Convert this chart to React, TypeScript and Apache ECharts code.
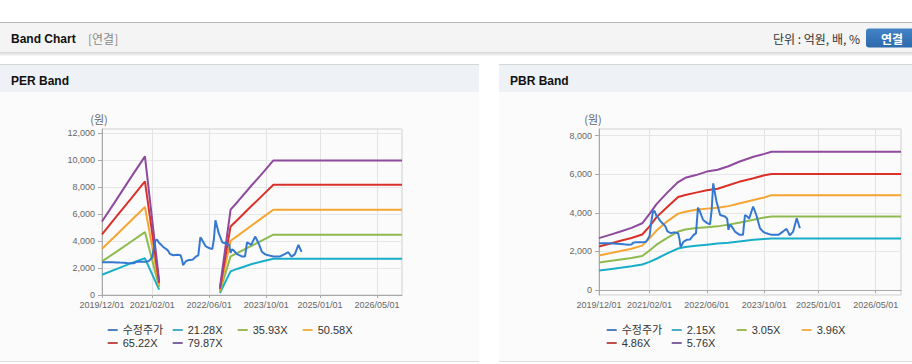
import React, { useEffect, useRef } from 'react';
import * as echarts from 'echarts';

// ---------- data ----------
const X_MIN = '2019-12-01';
const X_MAX = '2026-12-01';
const X_TICKS = ['2019-12-01', '2021-02-01', '2022-06-01', '2023-10-01', '2025-01-01', '2026-05-01'];

const PRICE_NAME = '수정주가';
const PRICE_DATES = [
  '2019-12-01', '2020-01-01', '2020-02-01', '2020-03-01', '2020-04-01', '2020-05-01', '2020-06-01',
  '2020-07-01', '2020-08-01', '2020-09-01', '2020-09-15', '2020-10-01', '2020-11-01', '2020-12-01',
  '2021-01-01', '2021-01-15', '2021-02-01', '2021-02-15', '2021-03-01', '2021-03-15', '2021-04-01',
  '2021-04-15', '2021-05-01', '2021-05-15', '2021-06-01', '2021-06-15', '2021-07-01', '2021-07-15',
  '2021-08-01', '2021-09-01', '2021-10-01', '2021-10-12', '2021-10-22', '2021-11-15', '2021-12-12',
  '2022-01-10', '2022-02-10', '2022-03-01', '2022-03-18', '2022-04-01', '2022-05-01', '2022-06-01',
  '2022-06-28', '2022-07-12', '2022-07-25', '2022-08-22', '2022-09-22', '2022-11-01', '2022-11-20',
  '2022-12-01', '2022-12-12', '2022-12-28', '2023-01-25', '2023-03-06', '2023-04-03', '2023-04-20',
  '2023-05-10', '2023-05-25', '2023-06-28', '2023-07-25', '2023-08-25', '2023-09-22', '2023-10-18',
  '2023-12-01', '2024-01-28', '2024-03-06', '2024-04-06', '2024-05-03', '2024-06-01', '2024-07-01',
  '2024-07-28',
];
const PRICE = [
  2430, 2430, 2420, 2420, 2410, 2400, 2390,
  2370, 2350, 2360, 2450, 2470, 2470, 2470,
  2500, 2620, 2800, 3500, 4050, 4100, 3850,
  3750, 3600, 3500, 3400, 3300, 3050, 3000,
  2950, 2990, 2940, 2650, 2220, 2500, 2600,
  2620, 2860, 2940, 4270, 4100, 3630, 3480,
  3400, 4150, 5530, 4580, 3890, 3810, 3700,
  3120, 3380, 3300, 3030, 2860, 2860, 3890,
  3810, 3700, 4330, 3890, 3200, 3010, 2940,
  2860, 2860, 3030, 3170, 2830, 3030, 3720,
  3200,
];

const PER_NAMES = ['21.28X', '35.93X', '50.58X', '65.22X', '79.87X'];
const PER_DATES = [
  '2019-12-01', '2020-04-01', '2020-08-01', '2020-12-01', '2021-04-01', '2022-01-01',
  '2022-09-01', '2022-12-01', '2023-02-01', '2023-06-01', '2023-09-01', '2023-12-01', '2026-12-01',
];
const PER_21 = [1500, 1920, 2340, 2720, 400, null, 150, 1750, 1950, 2300, 2500, 2690, 2690];
const PER_35 = [2490, 3200, 3930, 4660, 600, null, 250, 2860, 3130, 3660, 4070, 4470, 4470];
const PER_50 = [3430, 4450, 5480, 6520, 750, null, 350, 4020, 4400, 5170, 5750, 6320, 6320];
const PER_65 = [4500, 5800, 7100, 8420, 900, null, 450, 5080, 5600, 6630, 7400, 8170, 8170];
const PER_79 = [5450, 7050, 8680, 10270, 1050, null, 550, 6320, 6930, 8150, 9050, 9970, 9970];

const PBR_NAMES = ['2.15X', '3.05X', '3.96X', '4.86X', '5.76X'];
const PBR_DATES = [
  '2019-12-01', '2020-03-01', '2020-06-01', '2020-09-01', '2020-12-01', '2021-02-01', '2021-04-01',
  '2021-07-01', '2021-10-01', '2021-12-01', '2022-03-01', '2022-06-01', '2022-09-01', '2022-12-01',
  '2023-03-01', '2023-07-01', '2023-10-01', '2023-12-01', '2026-12-01',
];
const PBR_215 = [1010, 1080, 1150, 1230, 1320, 1460, 1620, 1900, 2150, 2230, 2290, 2350, 2410, 2450, 2520, 2600, 2650, 2670, 2670];
const PBR_305 = [1420, 1500, 1580, 1660, 1760, 2050, 2350, 2700, 3030, 3140, 3210, 3260, 3300, 3390, 3490, 3640, 3760, 3810, 3810];
const PBR_396 = [1790, 1900, 2020, 2140, 2300, 2680, 3080, 3560, 3960, 4060, 4160, 4220, 4270, 4350, 4490, 4670, 4800, 4920, 4920];
const PBR_486 = [2260, 2400, 2550, 2700, 2880, 3300, 3780, 4300, 4820, 4930, 5050, 5170, 5250, 5430, 5610, 5800, 5950, 6020, 6020];
const PBR_576 = [2690, 2860, 3030, 3220, 3460, 3950, 4450, 5050, 5600, 5820, 5960, 6140, 6240, 6420, 6650, 6910, 7060, 7170, 7170];

const PER_RANGE = [0, 12300];
const PBR_RANGE = [-260, 8350];

// ---------- styles ----------
const LINE_COLORS = ['#19aec7', '#8dbb4f', '#f5a532', '#d9302a', '#8f4a9e'];
const PRICE_COLOR = '#3578d0';
const LEGEND_COLORS = ['#4f81bd', '#4bacc6', '#9bbb59', '#f2b050', '#c0504d', '#8064a2'];
const NUM_FONT = '"Liberation Sans", Arial, "Noto Sans CJK KR", sans-serif';
const KR_FONT = '"Noto Sans CJK KR", "Liberation Sans", sans-serif';

const toTs = (s: string) => echarts.number.parseDate(s).getTime();
const pad = (n: number) => String(n).padStart(2, '0');
const fmtDate = (v: number) => {
  const d = new Date(v);
  return `${d.getFullYear()}/${pad(d.getMonth() + 1)}/${pad(d.getDate())}`;
};
const pairs = (dates: string[], vals: (number | null)[]) =>
  dates.map((d, i) => [toTs(d), vals[i] == null ? '-' : vals[i]]);

function xAxisCfg(gridIndex: number) {
  const ticks = X_TICKS.map(toTs);
  return {
    type: 'value',
    gridIndex,
    min: toTs(X_MIN),
    max: toTs(X_MAX),
    axisLine: { show: true, lineStyle: { color: '#a8a8a8', width: 1 } },
    axisTick: { show: true, length: 3, customValues: ticks, lineStyle: { color: '#a8a8a8' } },
    axisLabel: {
      customValues: ticks,
      formatter: (v: number) => fmtDate(v),
      fontSize: 9,
      color: '#666',
      margin: 5,
      fontFamily: NUM_FONT,
      hideOverlap: false,
    },
    splitLine: { show: true, lineStyle: { color: '#e3e3e3', width: 1 } },
  };
}

function yAxisCfg(gridIndex: number, range: number[], showMin: boolean) {
  return {
    type: 'value',
    gridIndex,
    min: range[0],
    max: range[1],
    axisLine: { show: true, lineStyle: { color: '#a8a8a8', width: 1 } },
    axisTick: { show: true, length: 4, lineStyle: { color: '#a8a8a8' } },
    axisLabel: {
      fontSize: 9,
      color: '#666',
      margin: 7,
      fontFamily: NUM_FONT,
      showMaxLabel: false,
      showMinLabel: showMin,
      formatter: (v: number) => echarts.format.addCommas(v),
    },
    splitLine: { show: true, lineStyle: { color: '#e6e6e6', width: 1 } },
  };
}

function legendCfg(left: number, names: string[]) {
  const all = [PRICE_NAME, ...names];
  return {
    left,
    top: 323.5,
    width: 262,
    padding: 0,
    itemGap: 0,
    itemWidth: 10,
    itemHeight: 2,
    icon: 'rect',
    selectedMode: false,
    textStyle: { fontSize: 11, color: '#333', width: 50, lineHeight: 13, fontFamily: NUM_FONT },
    data: all.map((n, i) => ({ name: n, itemStyle: { color: LEGEND_COLORS[i] } })),
  };
}

function bandSeries(idx: number, names: string[], dates: string[], arrays: (number | null)[][]) {
  return arrays.map((arr, i) => ({
    type: 'line',
    name: names[i],
    xAxisIndex: idx,
    yAxisIndex: idx,
    data: pairs(dates, arr),
    showSymbol: false,
    symbol: 'none',
    connectNulls: false,
    lineStyle: { width: 2, color: LINE_COLORS[i] },
    itemStyle: { color: LINE_COLORS[i] },
    z: 2,
  }));
}

function priceSeries(idx: number) {
  return {
    type: 'line',
    name: PRICE_NAME,
    xAxisIndex: idx,
    yAxisIndex: idx,
    data: pairs(PRICE_DATES, PRICE),
    showSymbol: false,
    symbol: 'none',
    lineStyle: { width: 2, color: PRICE_COLOR },
    itemStyle: { color: PRICE_COLOR },
    z: 3,
  };
}

function panel(x: number, w: number, title: string) {
  return [
    { type: 'rect', z: -10, shape: { x, y: 64, width: w, height: 1 }, style: { fill: '#d6d6d6' } },
    { type: 'rect', z: -10, shape: { x, y: 65, width: w, height: 27 }, style: { fill: '#eef2f7' } },
    { type: 'rect', z: -10, shape: { x, y: 92, width: w, height: 270 }, style: { fill: '#fbfbfb' } },
    { type: 'rect', z: -10, shape: { x, y: 361, width: w, height: 1 }, style: { fill: '#dedede' } },
    {
      type: 'text', z: 10, x: x + 11, y: 80.5,
      style: { text: title, fontSize: 12, fontWeight: 'bold', fill: '#111', fontFamily: NUM_FONT, verticalAlign: 'middle' },
    },
  ];
}

export default function App() {
  const ref = useRef<HTMLDivElement>(null);
  useEffect(() => {
    if (!ref.current) return;
    const chart = echarts.init(ref.current, null, { renderer: 'svg' });
    const option = {
      animation: false,
      backgroundColor: '#ffffff',
      grid: [
        { left: 102, top: 129, width: 300, height: 166, show: true, borderColor: '#cfcfcf', borderWidth: 1, backgroundColor: 'transparent' },
        { left: 599, top: 129, width: 302, height: 166, show: true, borderColor: '#cfcfcf', borderWidth: 1, backgroundColor: 'transparent' },
      ],
      xAxis: [xAxisCfg(0), xAxisCfg(1)],
      yAxis: [yAxisCfg(0, PER_RANGE, true), yAxisCfg(1, PBR_RANGE, false)],
      legend: [legendCfg(107.7, PER_NAMES), legendCfg(606.7, PBR_NAMES)],
      series: [
        ...bandSeries(0, PER_NAMES, PER_DATES, [PER_21, PER_35, PER_50, PER_65, PER_79]),
        priceSeries(0),
        ...bandSeries(1, PBR_NAMES, PBR_DATES, [PBR_215, PBR_305, PBR_396, PBR_486, PBR_576]),
        priceSeries(1),
      ],
      graphic: [
        { type: 'rect', z: -10, shape: { x: 0, y: 22, width: 912, height: 1 }, style: { fill: '#b8b8b8' } },
        { type: 'rect', z: -10, shape: { x: 0, y: 23, width: 912, height: 30 }, style: { fill: '#f4f4f4' } },
        { type: 'rect', z: -10, shape: { x: 0, y: 52.5, width: 912, height: 1 }, style: { fill: '#c2c2c2' } },
        {
          type: 'rect', z: -10, shape: { x: 0, y: 53.5, width: 912, height: 3 },
          style: {
            fill: new echarts.graphic.LinearGradient(0, 0, 0, 1, [
              { offset: 0, color: '#e2e2e2' },
              { offset: 1, color: '#ffffff' },
            ]),
          },
        },
        {
          type: 'text', z: 10, x: 11, y: 38.5,
          style: { text: 'Band Chart', fontSize: 12, fontWeight: 'bold', fill: '#111', fontFamily: NUM_FONT, verticalAlign: 'middle' },
        },
        {
          type: 'text', z: 10, x: 88, y: 38.5,
          style: { text: '[연결]', fontSize: 12, fill: '#8a8a8a', fontFamily: KR_FONT, verticalAlign: 'middle' },
        },
        {
          type: 'text', z: 10, x: 860, y: 38.5,
          style: { text: '단위 : 억원, 배, %', fontSize: 12, fill: '#333', fontFamily: KR_FONT, align: 'right', verticalAlign: 'middle' },
        },
        {
          type: 'rect', z: 5, shape: { x: 866, y: 28.5, width: 52, height: 19, r: 3 },
          style: {
            fill: new echarts.graphic.LinearGradient(0, 0, 0, 1, [
              { offset: 0, color: '#4283c6' },
              { offset: 1, color: '#2c69ad' },
            ]),
          },
        },
        {
          type: 'text', z: 10, x: 892, y: 38.5,
          style: { text: '연결', fontSize: 12, fontWeight: 'bold', fill: '#ffffff', fontFamily: KR_FONT, align: 'center', verticalAlign: 'middle' },
        },
        ...panel(0, 479, 'PER Band'),
        ...panel(499, 413, 'PBR Band'),
        {
          type: 'text', z: 10, x: 99, y: 118.5,
          style: { text: '(원)', fontSize: 11, fill: '#666', fontFamily: KR_FONT, align: 'center', verticalAlign: 'middle' },
        },
        {
          type: 'text', z: 10, x: 593, y: 118.5,
          style: { text: '(원)', fontSize: 11, fill: '#666', fontFamily: KR_FONT, align: 'center', verticalAlign: 'middle' },
        },
      ],
    };
    chart.setOption(option as any);
    return () => chart.dispose();
  }, []);
  return (
    <div
      ref={ref}
      style={{ position: 'absolute', left: 0, top: 0, width: 912, height: 364 }}
    />
  );
}
